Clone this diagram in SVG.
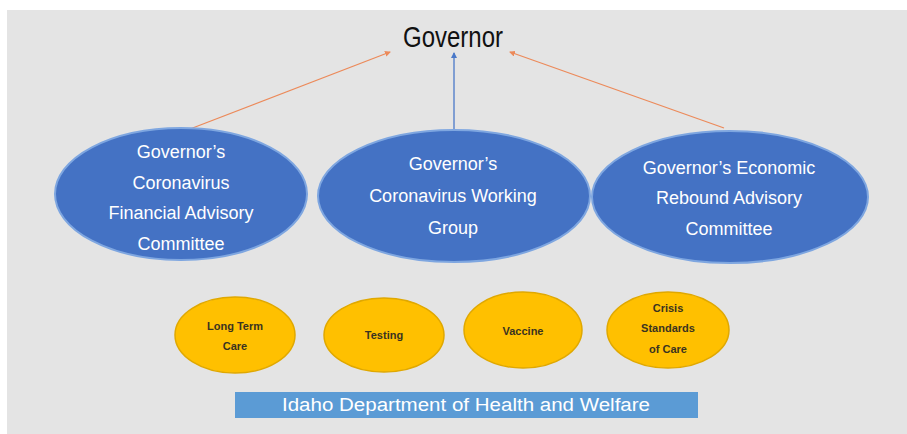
<svg xmlns="http://www.w3.org/2000/svg" width="907" height="434" viewBox="0 0 907 434">
  <defs>
    <marker id="arrowOrange" markerWidth="6" markerHeight="6" refX="5" refY="3" orient="auto" markerUnits="userSpaceOnUse">
      <path d="M0,0 L6,3 L0,6 Z" fill="#ec8a5a"/>
    </marker>
    <marker id="arrowBlue" markerWidth="6" markerHeight="6" refX="5" refY="3" orient="auto" markerUnits="userSpaceOnUse">
      <path d="M0,0 L6,3 L0,6 Z" fill="#4a78c8"/>
    </marker>
    <style>
      .committee { fill: #4472c4; stroke: #7ea6e0; stroke-width: 2; }
      .team { fill: #ffc000; stroke: #e0a800; stroke-width: 1.5; }
      .ctext { font-family: "Liberation Sans", Arial, sans-serif; font-size: 18px; fill: #ffffff; text-anchor: middle; }
      .ttext { font-family: "Liberation Sans", Arial, sans-serif; font-size: 11px; font-weight: bold; fill: #3a3320; text-anchor: middle; }
      .link-orange { stroke: #ec8a5a; stroke-width: 1.3; fill: none; marker-end: url(#arrowOrange); }
      .link-blue { stroke: #4a78c8; stroke-width: 1.3; fill: none; marker-end: url(#arrowBlue); }
    </style>
  </defs>

  <!-- page background -->
  <rect x="0" y="0" width="907" height="434" fill="#ffffff"/>
  <rect x="7" y="10" width="900" height="424" fill="#e4e4e4"/>

  <!-- top node -->
  <g id="governor">
    <text x="453" y="47" font-family="Liberation Sans, Arial, sans-serif" font-size="29" fill="#111111" text-anchor="middle" textLength="100" lengthAdjust="spacingAndGlyphs">Governor</text>
  </g>

  <!-- connectors -->
  <g id="connectors">
    <line class="link-orange" x1="190" y1="129" x2="390" y2="52"/>
    <line class="link-blue" x1="454" y1="129" x2="454" y2="53"/>
    <line class="link-orange" x1="724" y1="128" x2="510" y2="52"/>
  </g>

  <!-- committees -->
  <g id="financial-advisory">
    <ellipse class="committee" cx="181" cy="194" rx="126" ry="66"/>
    <text class="ctext" x="181" y="158">Governor’s</text>
    <text class="ctext" x="181" y="189">Coronavirus</text>
    <text class="ctext" x="181" y="219">Financial Advisory</text>
    <text class="ctext" x="181" y="250">Committee</text>
  </g>
  <g id="working-group">
    <ellipse class="committee" cx="454" cy="196" rx="136" ry="66"/>
    <text class="ctext" x="453" y="170">Governor’s</text>
    <text class="ctext" x="453" y="202">Coronavirus Working</text>
    <text class="ctext" x="453" y="234">Group</text>
  </g>
  <g id="economic-rebound">
    <ellipse class="committee" cx="730" cy="197" rx="138" ry="66"/>
    <text class="ctext" x="729" y="174">Governor’s Economic</text>
    <text class="ctext" x="729" y="204">Rebound Advisory</text>
    <text class="ctext" x="729" y="235">Committee</text>
  </g>

  <!-- working teams -->
  <g id="long-term-care">
    <ellipse class="team" cx="235" cy="335" rx="60" ry="38"/>
    <text class="ttext" x="235" y="330">Long Term</text>
    <text class="ttext" x="235" y="350">Care</text>
  </g>
  <g id="testing">
    <ellipse class="team" cx="384" cy="335" rx="60" ry="37"/>
    <text class="ttext" x="384" y="339">Testing</text>
  </g>
  <g id="vaccine">
    <ellipse class="team" cx="523" cy="330" rx="59" ry="38"/>
    <text class="ttext" x="523" y="335">Vaccine</text>
  </g>
  <g id="crisis-standards">
    <ellipse class="team" cx="668" cy="330" rx="61" ry="38"/>
    <text class="ttext" x="668" y="312">Crisis</text>
    <text class="ttext" x="668" y="332">Standards</text>
    <text class="ttext" x="668" y="353">of Care</text>
  </g>

  <!-- department bar -->
  <g id="idhw">
    <rect x="235" y="392" width="463" height="26" fill="#5b9bd5"/>
    <text x="466" y="411" font-family="Liberation Sans, Arial, sans-serif" font-size="18" fill="#ffffff" text-anchor="middle" textLength="368" lengthAdjust="spacingAndGlyphs">Idaho Department of Health and Welfare</text>
  </g>
</svg>
